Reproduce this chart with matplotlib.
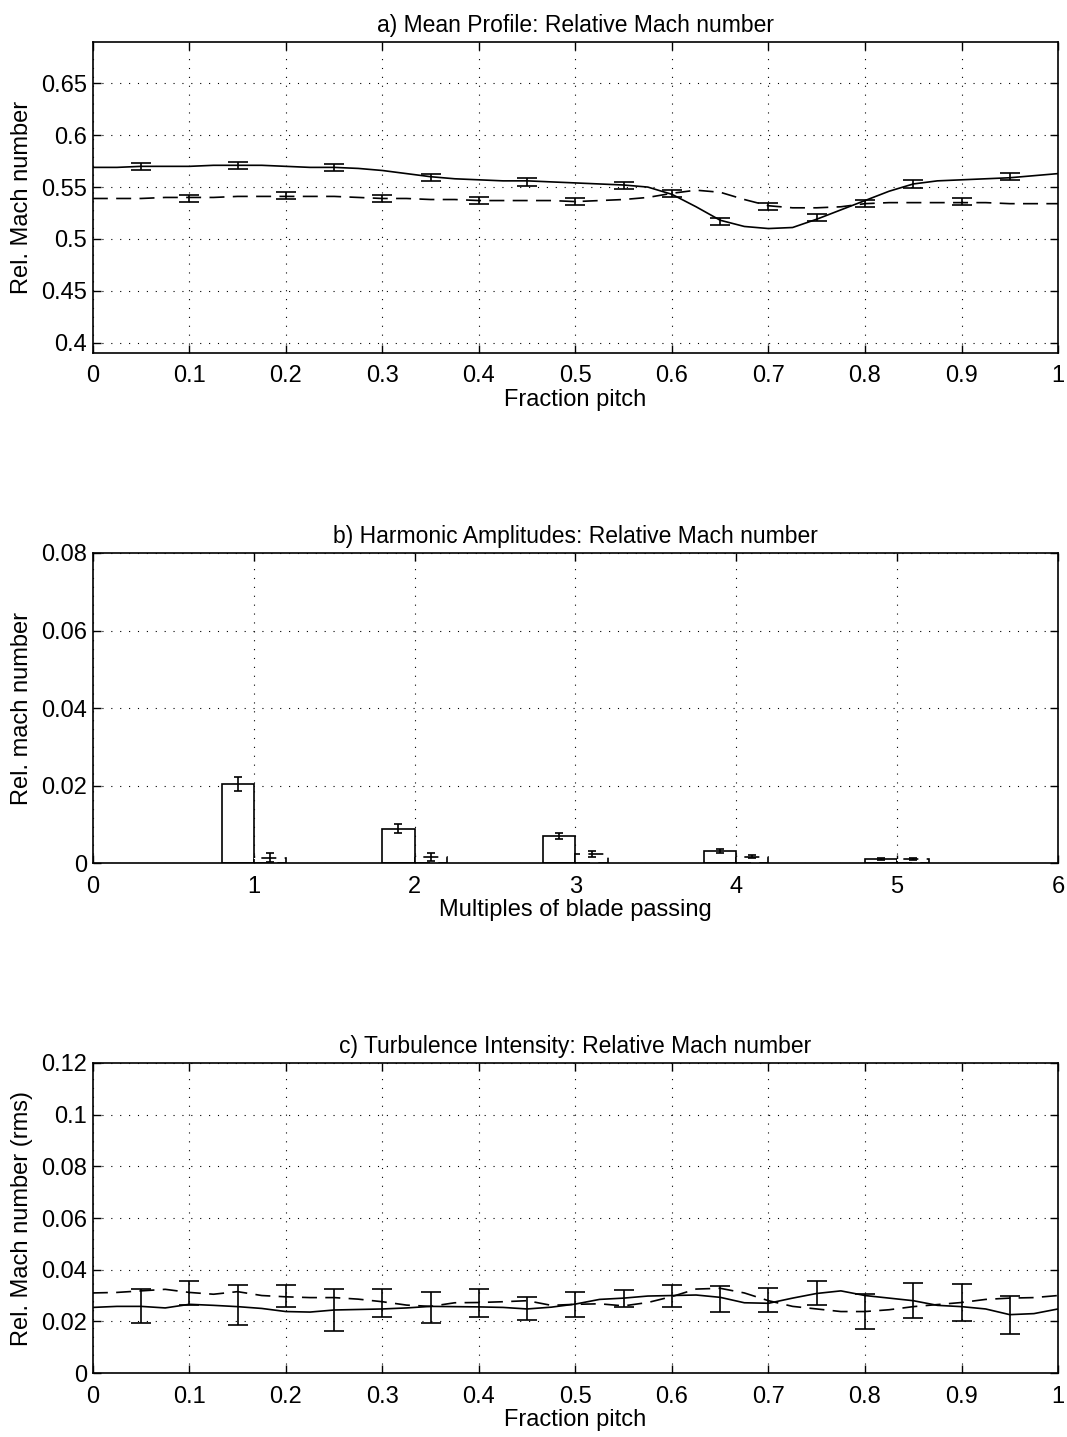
import numpy as np
import matplotlib
matplotlib.use("Agg")
import matplotlib.pyplot as plt

plt.rcParams['font.family'] = ['Liberation Sans', 'DejaVu Sans']
plt.rcParams['font.size'] = 17

# --- a) mean profile ---
pitch = np.linspace(0, 1, 41)
mean_solid = [0.569, 0.569, 0.570, 0.570, 0.570, 0.571, 0.571, 0.571, 0.570, 0.569,
              0.569, 0.568, 0.566, 0.563, 0.560, 0.558, 0.557, 0.556, 0.556, 0.555,
              0.554, 0.553, 0.552, 0.550, 0.543, 0.531, 0.518, 0.512, 0.510, 0.511,
              0.519, 0.528, 0.537, 0.546, 0.553, 0.556, 0.557, 0.558, 0.559, 0.561,
              0.563]
mean_dashed = [0.539, 0.539, 0.539, 0.540, 0.540, 0.540, 0.541, 0.541, 0.541, 0.541,
               0.541, 0.540, 0.539, 0.539, 0.538, 0.538, 0.537, 0.537, 0.537, 0.537,
               0.536, 0.537, 0.538, 0.540, 0.544, 0.547, 0.545, 0.538, 0.532, 0.530,
               0.530, 0.531, 0.534, 0.535, 0.535, 0.535, 0.535, 0.535, 0.534, 0.534,
               0.534]
err_x_solid = [0.05, 0.15, 0.25, 0.35, 0.45, 0.55, 0.65, 0.75, 0.85, 0.95]
err_y_solid = [0.5695, 0.5705, 0.5686, 0.5592, 0.555, 0.5513, 0.517, 0.5208, 0.553, 0.560]
err_x_dashed = [0.1, 0.2, 0.3, 0.4, 0.5, 0.6, 0.7, 0.8, 0.9]
err_y_dashed = [0.539, 0.5416, 0.539, 0.5368, 0.5359, 0.5438, 0.531, 0.534, 0.536]
mean_err = 0.0035

# --- b) harmonic amplitudes ---
harmonics = [1, 2, 3, 4, 5]
amp_solid = [0.0204, 0.0090, 0.0070, 0.0033, 0.0012]
amp_solid_err = [0.0018, 0.0012, 0.0008, 0.0005, 0.0003]
amp_dashed = [0.0015, 0.0016, 0.0025, 0.0018, 0.0012]
amp_dashed_err = [0.0012, 0.0010, 0.0007, 0.0003, 0.0002]

# --- c) turbulence intensity ---
turb_solid = [0.0254, 0.0258, 0.0258, 0.0252, 0.0266, 0.0262, 0.0257, 0.0250, 0.0238, 0.0236,
              0.0244, 0.0246, 0.0248, 0.0252, 0.0258, 0.0257, 0.0256, 0.0254, 0.0248, 0.0255,
              0.0267, 0.0285, 0.0290, 0.0298, 0.0300, 0.0302, 0.0293, 0.0272, 0.0270, 0.0290,
              0.0308, 0.0318, 0.0300, 0.0290, 0.0280, 0.0262, 0.0257, 0.0248, 0.0226, 0.0230,
              0.0248]
turb_dashed = [0.0310, 0.0312, 0.0318, 0.0324, 0.0312, 0.0305, 0.0315, 0.0300, 0.0295, 0.0292,
               0.0292, 0.0286, 0.0276, 0.0263, 0.0258, 0.0272, 0.0273, 0.0276, 0.0280, 0.0262,
               0.0266, 0.0268, 0.0260, 0.0273, 0.0296, 0.0325, 0.0328, 0.0310, 0.0280, 0.0258,
               0.0248, 0.0238, 0.0238, 0.0245, 0.0257, 0.0265, 0.0273, 0.0285, 0.0290, 0.0292,
               0.0300]
turb_err_y_solid = [0.026, 0.0262, 0.0245, 0.0255, 0.025, 0.029, 0.0288, 0.031, 0.028, 0.0225]
turb_err_solid = [0.0067, 0.0077, 0.0082, 0.006, 0.0045, 0.0033, 0.005, 0.0048, 0.0067, 0.0074]
turb_err_y_dashed = [0.031, 0.0297, 0.0272, 0.027, 0.0265, 0.0299, 0.0283, 0.0238, 0.0274]
turb_err_dashed = [0.0046, 0.0043, 0.0055, 0.0054, 0.0047, 0.0042, 0.0048, 0.0067, 0.0072]

pitch_ticks = np.arange(0, 1.01, 0.1)
pitch_labels = ['0', '0.1', '0.2', '0.3', '0.4', '0.5', '0.6', '0.7', '0.8', '0.9', '1']

DASH = (0, (9, 5))


def matlab_axes(ax):
    ax.tick_params(direction='in', length=6, width=1, top=True, right=True)
    ax.tick_params(axis='x', pad=9)
    ax.tick_params(axis='y', pad=4)
    ax.grid(True, color='black', linestyle=(0, (1, 7)), linewidth=0.8)
    ax.set_axisbelow(True)
    for s in ax.spines.values():
        s.set_linewidth(1.2)


fig = plt.figure(figsize=(10.67, 14.37), dpi=100)
ax_a = fig.add_axes([0.087, 0.7544, 0.9046, 0.2164])
ax_b = fig.add_axes([0.087, 0.3991, 0.9046, 0.2161])
ax_c = fig.add_axes([0.087, 0.0445, 0.9046, 0.2158])

# a)
ax_a.plot(pitch, mean_solid, color='black', lw=1.2)
ax_a.plot(pitch, mean_dashed, color='black', lw=1.2, linestyle=DASH)
ax_a.errorbar(err_x_solid, err_y_solid, yerr=mean_err, fmt='none', ecolor='black',
              elinewidth=1.2, capsize=7, capthick=1.2)
ax_a.errorbar(err_x_dashed, err_y_dashed, yerr=mean_err, fmt='none', ecolor='black',
              elinewidth=1.2, capsize=7, capthick=1.2)
ax_a.set_xlim(0, 1)
ax_a.set_ylim(0.39, 0.69)
ax_a.set_xticks(pitch_ticks)
ax_a.set_xticklabels(pitch_labels)
ax_a.set_yticks([0.4, 0.45, 0.5, 0.55, 0.6, 0.65])
ax_a.set_yticklabels(['0.4', '0.45', '0.5', '0.55', '0.6', '0.65'])
ax_a.set_xlabel('Fraction pitch', labelpad=1)
ax_a.set_ylabel('Rel. Mach number', labelpad=6)
ax_a.set_title('a) Mean Profile: Relative Mach number', fontsize=16.5, pad=7)
matlab_axes(ax_a)

# b)
h = np.array(harmonics, dtype=float)
ax_b.bar(h - 0.1, amp_solid, width=0.2, facecolor='white', edgecolor='black', linewidth=1.2)
ax_b.bar(h + 0.1, amp_dashed, width=0.2, facecolor='white', edgecolor='black',
         linewidth=1.2, linestyle=DASH)
ax_b.errorbar(h - 0.1, amp_solid, yerr=amp_solid_err, fmt='none', ecolor='black',
              elinewidth=1.2, capsize=3, capthick=1.2)
ax_b.errorbar(h + 0.1, amp_dashed, yerr=amp_dashed_err, fmt='none', ecolor='black',
              elinewidth=1.2, capsize=3, capthick=1.2)
ax_b.set_xlim(0, 6)
ax_b.set_ylim(0, 0.08)
ax_b.set_xticks(range(0, 7))
ax_b.set_yticks([0, 0.02, 0.04, 0.06, 0.08])
ax_b.set_yticklabels(['0', '0.02', '0.04', '0.06', '0.08'])
ax_b.set_xlabel('Multiples of blade passing', labelpad=1)
ax_b.set_ylabel('Rel. mach number', labelpad=6)
ax_b.set_title('b) Harmonic Amplitudes: Relative Mach number', fontsize=16.5, pad=7)
matlab_axes(ax_b)

# c)
ax_c.plot(pitch, turb_solid, color='black', lw=1.2)
ax_c.plot(pitch, turb_dashed, color='black', lw=1.2, linestyle=DASH)
ax_c.errorbar(err_x_solid, turb_err_y_solid, yerr=turb_err_solid, fmt='none', ecolor='black',
              elinewidth=1.2, capsize=7, capthick=1.2)
ax_c.errorbar(err_x_dashed, turb_err_y_dashed, yerr=turb_err_dashed, fmt='none', ecolor='black',
              elinewidth=1.2, capsize=7, capthick=1.2)
ax_c.set_xlim(0, 1)
ax_c.set_ylim(0, 0.12)
ax_c.set_xticks(pitch_ticks)
ax_c.set_xticklabels(pitch_labels)
ax_c.set_yticks([0, 0.02, 0.04, 0.06, 0.08, 0.1, 0.12])
ax_c.set_yticklabels(['0', '0.02', '0.04', '0.06', '0.08', '0.1', '0.12'])
ax_c.set_xlabel('Fraction pitch', labelpad=1)
ax_c.set_ylabel('Rel. Mach number (rms)', labelpad=6)
ax_c.set_title('c) Turbulence Intensity: Relative Mach number', fontsize=16.5, pad=7)
matlab_axes(ax_c)

fig.savefig('out.png', dpi=100)
